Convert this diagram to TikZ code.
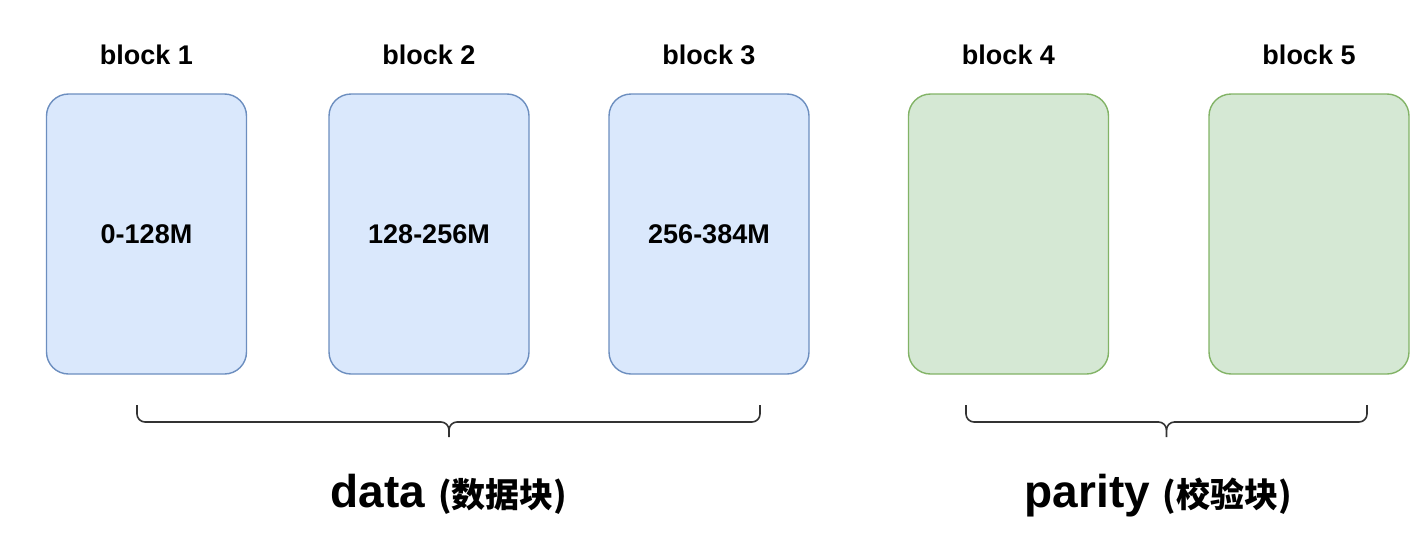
\documentclass[tikz,border=0pt]{standalone}
\usepackage{fontspec}
\setmainfont{Liberation Sans}
\newfontfamily\cjk{Noto Sans CJK SC}
\definecolor{dfill}{HTML}{DAE8FC}
\definecolor{dline}{HTML}{6C8EBF}
\definecolor{pfill}{HTML}{D5E8D4}
\definecolor{pline}{HTML}{82B366}
\definecolor{bline}{HTML}{333333}
\begin{document}
\begin{tikzpicture}[x=0.5pt, y=0.5pt,
  dblock/.style={draw=dline, fill=dfill, line width=0.7pt, rounded corners=11pt, minimum width=100pt, minimum height=140pt, font=\fontsize{13.5}{16}\bfseries},
  pblock/.style={draw=pline, fill=pfill, line width=0.7pt, rounded corners=11pt, minimum width=100pt, minimum height=140pt},
  lbl/.style={font=\fontsize{13.5}{16}\bfseries},
  brc/.style={draw=bline, line width=0.8pt},
  ttl/.style={font=\fontsize{23}{26}\bfseries}]
\useasboundingbox (0,0) rectangle (1424,532);
\node[dblock] (b1) at (146.5,298) {0-128M};
\node[dblock] (b2) at (429,298) {128-256M};
\node[dblock] (b3) at (709,298) {256-384M};
\node[pblock] (b4) at (1008.5,298) {};
\node[pblock] (b5) at (1309,298) {};
\node[lbl] (l1) at (146.5,477) {block 1};
\node[lbl] (l2) at (429,477) {block 2};
\node[lbl] (l3) at (709,477) {block 3};
\node[lbl] (l4) at (1008.5,477) {block 4};
\node[lbl] (l5) at (1309,477) {block 5};
% braces
\draw[brc] (137,127) -- (137,118) arc[start angle=180, end angle=270, radius=8] -- (441,110) arc[start angle=90, end angle=0, radius=8] -- (449,95);
\draw[brc] (760,127) -- (760,118) arc[start angle=0, end angle=-90, radius=8] -- (457,110) arc[start angle=90, end angle=180, radius=8];
\draw[brc] (966,127) -- (966,118) arc[start angle=180, end angle=270, radius=8] -- (1158.5,110) arc[start angle=90, end angle=0, radius=8] -- (1166.5,95);
\draw[brc] (1367,127) -- (1367,118) arc[start angle=0, end angle=-90, radius=8] -- (1174.5,110) arc[start angle=90, end angle=180, radius=8];
\node[ttl] (data) at (449,38) {data {\fontsize{17}{20}\cjk\bfseries(数据块)}};
\node[ttl] (parity) at (1158.5,36) {parity {\fontsize{17}{20}\cjk\bfseries(校验块)}};
\end{tikzpicture}
\end{document}
